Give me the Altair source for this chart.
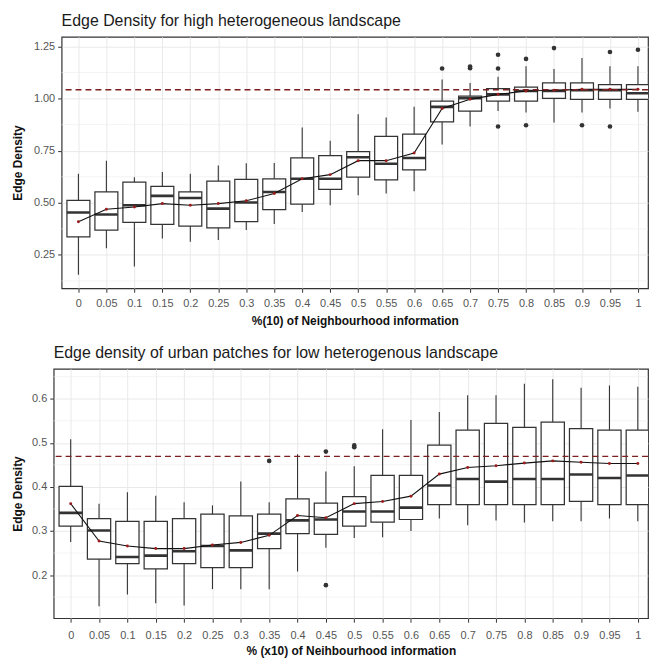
import altair as alt
import pandas as pd

# Share of neighbourhood information (x categories)
categories = [0, 0.05, 0.1, 0.15, 0.2, 0.25, 0.3, 0.35, 0.4, 0.45, 0.5,
              0.55, 0.6, 0.65, 0.7, 0.75, 0.8, 0.85, 0.9, 0.95, 1]

# --- High heterogeneous landscape: box-plot summaries ---
high_lo = [0.155, 0.282, 0.194, 0.329, 0.313, 0.321, 0.369, 0.398, 0.456, 0.488, 0.536,
           0.544, 0.555, 0.779, 0.866, 0.940, 0.933, 0.885, 0.933, 0.952, 0.937]
high_q1 = [0.337, 0.369, 0.406, 0.396, 0.388, 0.380, 0.409, 0.467, 0.493, 0.564, 0.623,
           0.610, 0.658, 0.888, 0.940, 0.988, 0.988, 1.001, 0.996, 0.996, 0.996]
high_med = [0.453, 0.444, 0.488, 0.533, 0.523, 0.472, 0.501, 0.552, 0.615, 0.615, 0.718,
            0.687, 0.715, 0.960, 1.001, 1.020, 1.036, 1.036, 1.040, 1.040, 1.025]
high_q3 = [0.512, 0.552, 0.599, 0.579, 0.552, 0.604, 0.612, 0.615, 0.715, 0.726, 0.745,
           0.818, 0.829, 0.988, 1.012, 1.047, 1.055, 1.075, 1.075, 1.067, 1.067]
high_hi = [0.639, 0.702, 0.623, 0.647, 0.639, 0.679, 0.690, 0.691, 0.861, 0.798, 0.925,
           0.909, 0.961, 1.091, 1.075, 1.104, 1.155, 1.142, 1.194, 1.155, 1.155]
high_mean = [0.409, 0.469, 0.480, 0.496, 0.488, 0.496, 0.510, 0.544, 0.615, 0.635, 0.702,
             0.702, 0.739, 0.952, 0.996, 1.020, 1.036, 1.040, 1.044, 1.044, 1.044]
high_out_x = [0.65, 0.7, 0.7, 0.75, 0.75, 0.75, 0.8, 0.8, 0.85, 0.9, 0.95, 0.95, 1]
high_out_y = [1.144, 1.145, 1.153, 1.210, 1.144, 0.866, 1.190, 0.872, 1.242, 0.872,
              1.223, 0.866, 1.234]
high_ref = 1.042

# --- Low heterogeneous landscape: box-plot summaries ---
low_lo = [0.275, 0.129, 0.156, 0.136, 0.131, 0.168, 0.168, 0.168, 0.208, 0.262, 0.284,
          0.286, 0.300, 0.328, 0.313, 0.324, 0.319, 0.322, 0.322, 0.328, 0.322]
low_q1 = [0.311, 0.236, 0.226, 0.214, 0.226, 0.217, 0.217, 0.260, 0.294, 0.292, 0.311,
          0.320, 0.326, 0.360, 0.360, 0.360, 0.360, 0.360, 0.367, 0.360, 0.360]
low_med = [0.341, 0.301, 0.241, 0.244, 0.254, 0.266, 0.256, 0.294, 0.324, 0.326, 0.344,
           0.344, 0.353, 0.403, 0.418, 0.412, 0.418, 0.418, 0.428, 0.420, 0.426]
low_q3 = [0.401, 0.328, 0.322, 0.322, 0.328, 0.338, 0.334, 0.338, 0.373, 0.363, 0.378,
          0.426, 0.426, 0.495, 0.529, 0.544, 0.535, 0.547, 0.532, 0.529, 0.529]
low_hi = [0.508, 0.362, 0.388, 0.380, 0.365, 0.358, 0.412, 0.365, 0.474, 0.435, 0.447,
          0.531, 0.552, 0.570, 0.608, 0.608, 0.634, 0.644, 0.625, 0.630, 0.627]
low_mean = [0.362, 0.277, 0.266, 0.260, 0.260, 0.268, 0.274, 0.290, 0.335, 0.330, 0.362,
            0.367, 0.379, 0.429, 0.444, 0.448, 0.454, 0.459, 0.456, 0.453, 0.453]
low_out_x = [0.35, 0.45, 0.45, 0.5, 0.5]
low_out_y = [0.459, 0.480, 0.177, 0.494, 0.490]
low_ref = 0.469

FONT = "Liberation Sans"
INK = "#333333"
HALF_BOX = 0.0205
X_DOMAIN = [-0.03, 1.018]


def spacer():
    # invisible 1px cell that anchors each row at the same outer left edge
    return alt.Chart(pd.DataFrame({"v": [0]})).mark_point(opacity=0).encode(
        x=alt.value(0), y=alt.value(0)
    ).properties(width=1, height=1, view=alt.ViewBackground(stroke="transparent"))


def panel(title, x_title, lo, q1, med, q3, hi, mean, out_x, out_y, ref,
          y_domain, y_ticks, y_minor, y_format, width, height, y_extent,
          x_label_pad, x_title_pad):
    stats = pd.DataFrame({"pct": categories, "lo": lo, "q1": q1, "med": med,
                          "q3": q3, "hi": hi, "mean": mean})
    outliers = pd.DataFrame({"pct": out_x, "value": out_y})
    minor = pd.DataFrame({"y": y_minor})
    refline = pd.DataFrame({"y": [ref]})

    x_scale = alt.Scale(domain=X_DOMAIN, nice=False, zero=False)
    y_scale = alt.Scale(domain=y_domain, nice=False, zero=False)
    x_axis = alt.Axis(values=categories, format="~g", title=x_title, grid=True,
                      labelFlush=False, labelOverlap=False,
                      labelPadding=x_label_pad, titlePadding=x_title_pad)
    y_axis = alt.Axis(values=y_ticks, format=y_format, title="Edge Density", grid=True,
                      minExtent=y_extent, maxExtent=y_extent, titlePadding=5)

    base = alt.Chart(stats)

    minor_grid = alt.Chart(minor).mark_rule(color="#ededed", strokeWidth=0.6).encode(
        y=alt.Y("y:Q", scale=y_scale, axis=y_axis)
    )
    whiskers = base.mark_rule(color=INK, strokeWidth=1.1).encode(
        x=alt.X("pct:Q", scale=x_scale, axis=x_axis),
        y=alt.Y("lo:Q", scale=y_scale, axis=y_axis),
        y2="hi:Q",
    )
    boxes = base.transform_calculate(
        xl=f"datum.pct - {HALF_BOX}", xr=f"datum.pct + {HALF_BOX}"
    ).mark_rect(fill="white", stroke=INK, strokeWidth=1.25, clip=True).encode(
        x=alt.X("xl:Q", scale=x_scale, axis=x_axis),
        x2="xr:Q",
        y=alt.Y("q1:Q", scale=y_scale, axis=y_axis),
        y2="q3:Q",
    )
    medians = base.transform_calculate(
        xl=f"datum.pct - {HALF_BOX}", xr=f"datum.pct + {HALF_BOX}"
    ).mark_rule(color=INK, strokeWidth=2.6, clip=True).encode(
        x=alt.X("xl:Q", scale=x_scale, axis=x_axis),
        x2="xr:Q",
        y=alt.Y("med:Q", scale=y_scale, axis=y_axis),
    )
    points = alt.Chart(outliers).mark_circle(color=INK, size=22, opacity=1).encode(
        x=alt.X("pct:Q", scale=x_scale, axis=x_axis),
        y=alt.Y("value:Q", scale=y_scale, axis=y_axis),
    )
    mean_line = base.mark_line(color="#111111", strokeWidth=1.1).encode(
        x=alt.X("pct:Q", scale=x_scale, axis=x_axis),
        y=alt.Y("mean:Q", scale=y_scale, axis=y_axis),
    )
    mean_pts = base.mark_point(filled=True, color="#9b1c1c", size=9, opacity=1).encode(
        x=alt.X("pct:Q", scale=x_scale, axis=x_axis),
        y=alt.Y("mean:Q", scale=y_scale, axis=y_axis),
    )
    ref_rule = alt.Chart(refline).mark_rule(
        color="#7d1f1f", strokeWidth=1.3, strokeDash=[6, 4]
    ).encode(y=alt.Y("y:Q", scale=y_scale, axis=y_axis))

    layered = alt.layer(
        minor_grid, whiskers, boxes, medians, points, mean_line, mean_pts, ref_rule
    ).properties(
        width=width,
        height=height,
        title=alt.TitleParams(title, anchor="start", frame="group", fontSize=16,
                              font=FONT, fontWeight="normal", color="#1a1a1a",
                              offset=8),
    )
    return alt.hconcat(spacer(), layered, spacing=0)


top = panel("Edge Density for high heterogeneous landscape",
            "%(10) of Neighbourhood information",
            high_lo, high_q1, high_med, high_q3, high_hi, high_mean,
            high_out_x, high_out_y, high_ref,
            [0.09, 1.296], [0.25, 0.5, 0.75, 1.0, 1.25],
            [0.125, 0.375, 0.625, 0.875, 1.125], ".2f", 590, 253, 32, 5, 7)

bottom = panel("Edge density of urban patches for low heterogenous landscape",
               "% (x10) of Neihbourhood information",
               low_lo, low_q1, low_med, low_q3, low_hi, low_mean,
               low_out_x, low_out_y, low_ref,
               [0.102, 0.668], [0.2, 0.3, 0.4, 0.5, 0.6],
               [0.15, 0.25, 0.35, 0.45, 0.55, 0.65], ".1f", 598, 251, 24, 7, 6)

chart = alt.vconcat(top, bottom, spacing=17).properties(
    padding={"left": 3, "top": 10, "right": 0, "bottom": 0},
    background="white",
).configure_view(
    stroke=INK, strokeWidth=1.2
).configure_axis(
    labelFont=FONT, titleFont=FONT, labelFontSize=11, labelColor="#555555",
    titleFontSize=12, titleFontWeight="bold", titleColor="#111111",
    tickColor=INK, tickSize=4, tickWidth=1, domain=False,
    gridColor="#e6e6e6", gridWidth=0.9, labelPadding=3,
)

chart.save("out.html", embed_options={"renderer": "svg", "actions": False})
